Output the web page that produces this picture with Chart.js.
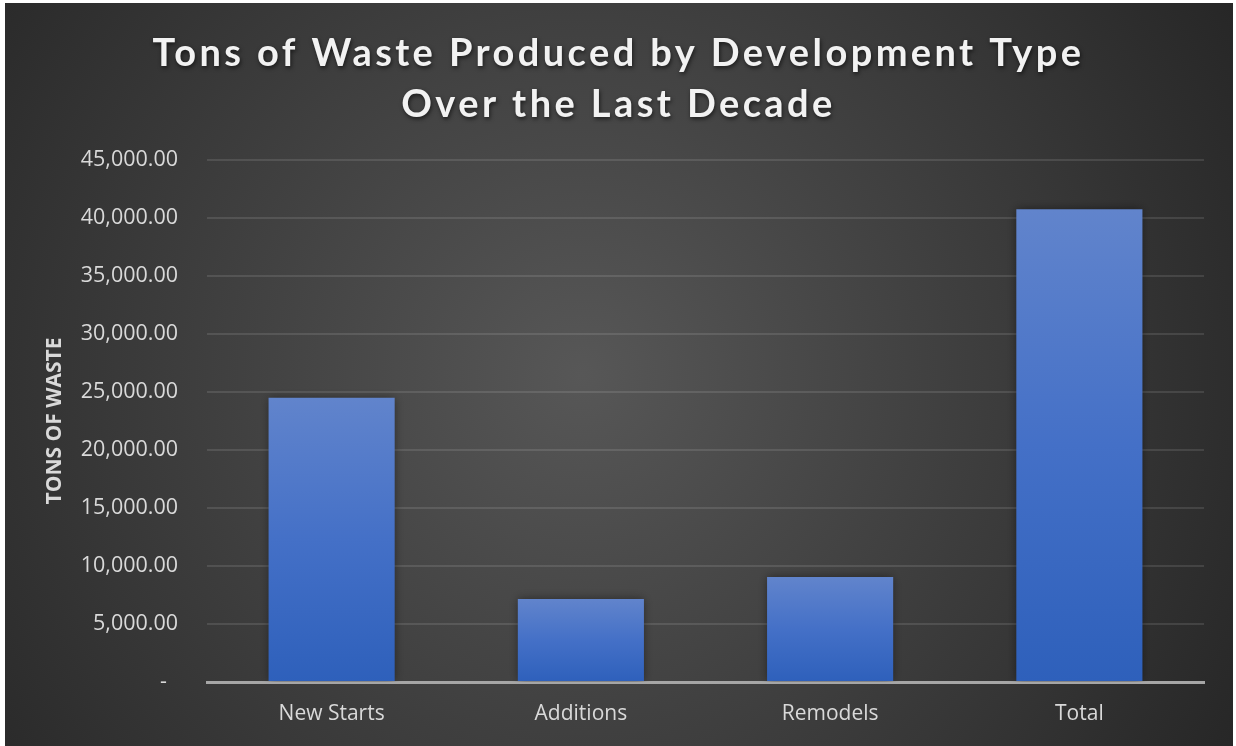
<!DOCTYPE html>
<html>
<head>
<meta charset="utf-8">
<script src="https://cdn.jsdelivr.net/npm/chart.js@4/dist/chart.umd.min.js"></script>
<style>
    html, body { margin: 0; padding: 0; background: #ffffff; }
    #wrap { position: absolute; left: 5px; top: 3px; width: 1228px; height: 743px; }
</style>
</head>
<body>
<div id="wrap"><canvas id="chart"></canvas></div>
<script>
const categories = ['New Starts', 'Additions', 'Remodels', 'Total'];
const tonsOfWaste = [24500, 7150, 9050, 40750];
const titleLines = ['Tons of Waste Produced by Development Type', 'Over the Last Decade'];
const yAxisTitle = 'TONS OF WASTE';

// Radial dark background
const backgroundPlugin = {
    id: 'bg',
    beforeDraw(chart) {
        const { ctx, width, height } = chart;
        const g = ctx.createRadialGradient(width * 0.47, height * 0.5, 0, width * 0.47, height * 0.5, width * 0.62);
        g.addColorStop(0, '#575757');
        g.addColorStop(1, '#262626');
        ctx.save();
        ctx.fillStyle = g;
        ctx.fillRect(0, 0, width, height);
        ctx.restore();

        // letter spacing + shadow for the main title only
        const t = chart.titleBlock;
        if (t && !t._wrapped) {
            const orig = t.draw.bind(t);
            t.draw = function () {
                const c = this.ctx;
                c.save();
                c.translate(14, 0);
                c.letterSpacing = '3.4px';
                c.shadowColor = 'rgba(0,0,0,0.6)';
                c.shadowBlur = 4;
                c.shadowOffsetX = 1;
                c.shadowOffsetY = 2;
                orig();
                c.restore();
            };
            t._wrapped = true;
        }
    },
    beforeDatasetsDraw(chart) {
        const ctx = chart.ctx;
        ctx.save();
        ctx.shadowColor = 'rgba(0,0,0,0.45)';
        ctx.shadowBlur = 9;
    },
    afterDatasetsDraw(chart) {
        chart.ctx.restore();
    }
};

function barGradient(context) {
    const chart = context.chart;
    if (!chart.chartArea) return '#4472c4';
    const y = chart.scales.y;
    const top = y.getPixelForValue(context.raw);
    const bottom = y.getPixelForValue(0);
    const g = chart.ctx.createLinearGradient(0, top, 0, bottom);
    g.addColorStop(0, '#6184cc');
    g.addColorStop(0.5, '#4470c7');
    g.addColorStop(1, '#2e60bb');
    return g;
}

new Chart(document.getElementById('chart'), {
    type: 'bar',
    data: {
        labels: categories,
        datasets: [{
            data: tonsOfWaste,
            backgroundColor: barGradient,
            borderWidth: 0,
            categoryPercentage: 1,
            barPercentage: 0.506
        }]
    },
    options: {
        responsive: true,
        maintainAspectRatio: false,
        animation: false,
        layout: { padding: { left: 0, right: 29, top: 0, bottom: 0 } },
        plugins: {
            legend: { display: false },
            tooltip: { enabled: false },
            title: {
                display: true,
                text: titleLines,
                color: '#f2f2f2',
                font: { family: 'Lato', size: 38, weight: 'bold', lineHeight: '51px' },
                padding: { top: 25, bottom: 30 }
            }
        },
        scales: {
            x: {
                grid: { display: false, drawTicks: false },
                border: { display: true, color: '#a6a6a6', width: 3 },
                ticks: {
                    color: '#d9d9d9',
                    font: { family: 'Open Sans', size: 21 },
                    padding: 19
                },
                afterFit(scale) { scale.height = 64; }
            },
            y: {
                min: 0,
                max: 45000,
                ticks: {
                    stepSize: 5000,
                    color: '#d9d9d9',
                    font: { family: 'Open Sans', size: 21.5 },
                    padding: 29,
                    callback: v => v === 0 ? '-  ' : v.toLocaleString('en-US', { minimumFractionDigits: 2, maximumFractionDigits: 2 })
                },
                grid: { color: 'rgba(255,255,255,0.11)', lineWidth: 2, drawTicks: false },
                border: { display: false },
                title: {
                    display: true,
                    text: yAxisTitle,
                    color: '#d9d9d9',
                    font: { family: 'Open Sans', size: 21, weight: 'bold' },
                    padding: { top: 37, bottom: 0 }
                },
                afterFit(scale) { scale.width = 202; }
            }
        }
    },
    plugins: [backgroundPlugin]
});
</script>
</body>
</html>
